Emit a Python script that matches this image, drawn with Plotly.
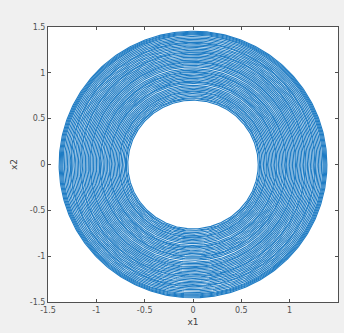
import numpy as np
import plotly.graph_objects as go

# ring radii (x1 semi-axis), inner to outer
ring_r = [0.675, 0.69, 0.70, 0.715, 0.73, 0.745, 0.76, 0.77, 0.785, 0.80, 0.815, 0.83,
          0.845, 0.86, 0.87, 0.885, 0.90, 0.915, 0.93, 0.945, 0.96, 0.97, 0.985, 1.00,
          1.015, 1.03, 1.045, 1.06, 1.07, 1.085, 1.10, 1.115, 1.13, 1.145, 1.16, 1.17,
          1.185, 1.20, 1.215, 1.23, 1.245, 1.26, 1.27, 1.285, 1.30, 1.315, 1.33, 1.345,
          1.355, 1.365, 1.375, 1.385]
# x2 semi-axis stretch relative to x1
y_stretch = [1.04] * 12 + [1.045] * 12 + [1.05] * 28
tick_vals = [-1.5, -1, -0.5, 0, 0.5, 1, 1.5]
tick_text = ["-1.5", "-1", "-0.5", "0", "0.5", "1", "1.5"]

theta = np.linspace(0, 2 * np.pi, 361)
xs, ys = [], []
for r, s in zip(ring_r, y_stretch):
    xs.extend(list(r * np.cos(theta)) + [None])
    ys.extend(list(r * s * np.sin(theta)) + [None])

fig = go.Figure()
fig.add_trace(go.Scatter(x=xs, y=ys, mode="lines",
                         line=dict(color="#1f7cc4", width=1.1),
                         hoverinfo="skip", showlegend=False))

axis_common = dict(range=[-1.5, 1.5], tickvals=tick_vals, ticktext=tick_text,
                   ticks="inside", ticklen=3, tickcolor="#505050",
                   showline=True, linecolor="#505050", linewidth=1, mirror="allticks",
                   showgrid=False, zeroline=False,
                   tickfont=dict(family="DejaVu Sans", size=8, color="#505050"))

fig.update_layout(
    width=344, height=333,
    margin=dict(l=48, r=6, t=27, b=31),
    paper_bgcolor="#f0f0f0", plot_bgcolor="white",
    xaxis=dict(**axis_common, title=dict(text="x1", standoff=5,
               font=dict(family="DejaVu Sans", size=9, color="#404040"))),
    yaxis=dict(**axis_common, title=dict(text="x2", standoff=10,
               font=dict(family="DejaVu Sans", size=9, color="#404040"))),
)
fig.write_html("out.html")
